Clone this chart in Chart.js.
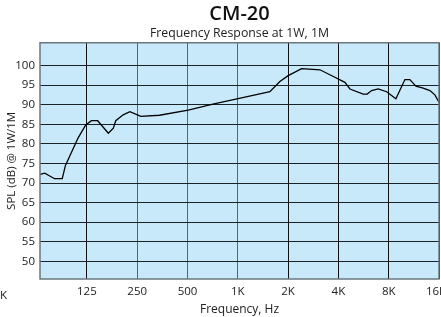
<!DOCTYPE html>
<html>
<head>
<meta charset="utf-8">
<script src="https://cdn.jsdelivr.net/npm/chart.js@4/dist/chart.umd.min.js"></script>
<style>
  html, body { margin: 0; padding: 0; background: #fff; }
  #wrap { position: relative; width: 441px; height: 317px; }
  #stray { position: absolute; left: 0px; top: 287px; font: 11.5px "Open Sans", sans-serif; color: #222; }
</style>
</head>
<body>
<div id="wrap">
  <canvas id="chart" width="441" height="317"></canvas>
  <div id="stray">K</div>
</div>
<script>
// frequency response (Hz / dB)
const freqs = [65.5, 70, 80, 89, 93, 111, 123, 133, 145, 168, 180, 186, 206, 226, 263, 340, 505, 720, 1020,
               1556, 1786, 2003, 2409, 3100, 3810, 4375, 4690, 5630, 5950, 6320, 6920, 7770, 8835,
               10000, 10710, 11640, 12870, 14110, 15120, 16000];
const spl = [72.2, 72.5, 71.1, 71.1, 74.5, 81.6, 84.8, 85.9, 85.9, 82.7, 84.0, 85.9, 87.4, 88.2, 87.0, 87.3, 88.6, 90.2, 91.6,
             93.3, 95.9, 97.4, 99.2, 98.9, 97.0, 95.7, 94.0, 92.7, 92.7, 93.6, 94.0, 93.3, 91.5,
             96.4, 96.4, 94.7, 94.2, 93.6, 92.5, 90.6];

const xTicks = [125, 250, 500, 1000, 2000, 4000, 8000, 16000];
const xLabels = ['125', '250', '500', '1K', '2K', '4K', '8K', '16K  '];
const yTicks = [50, 55, 60, 65, 70, 75, 80, 85, 90, 95, 100];

const points = freqs.map((f, i) => ({ x: f, y: spl[i] }));
const fontFam = '"Open Sans", sans-serif';

// light blue plot background + gray frame
const plotFrame = {
    id: 'plotFrame',
    beforeDraw(chart) {
        const a = chart.chartArea, c = chart.ctx;
        c.save();
        c.fillStyle = '#c8e9f9';
        c.fillRect(a.left, a.top, a.right - a.left, a.bottom - a.top);
        c.restore();
    },
    afterDatasetsDraw(chart) {
        const a = chart.chartArea, c = chart.ctx;
        c.save();
        c.strokeStyle = '#6b777c';
        c.lineWidth = 1.5;
        c.strokeRect(a.left, a.top, a.right - a.left, a.bottom - a.top);
        c.restore();
    }
};

new Chart(document.getElementById('chart'), {
    type: 'line',
    data: {
        datasets: [{
            data: points,
            borderColor: '#000',
            borderWidth: 1.3,
            pointRadius: 0,
            tension: 0,
            fill: false
        }]
    },
    plugins: [plotFrame],
    options: {
        responsive: false,
        animation: false,
        layout: { padding: { left: 0, right: 2, top: 0, bottom: 0 } },
        plugins: {
            legend: { display: false },
            tooltip: { enabled: false },
            title: {
                display: true,
                text: 'CM-20',
                fullSize: false,
                color: '#111',
                font: { family: fontFam, size: 20, weight: '600' },
                padding: { top: 2, bottom: 0 }
            },
            subtitle: {
                display: true,
                text: 'Frequency Response at 1W, 1M',
                fullSize: false,
                color: '#222',
                font: { family: fontFam, size: 12.3 },
                padding: { top: 0, bottom: 2 }
            }
        },
        scales: {
            x: {
                type: 'logarithmic',
                min: 65.5,
                max: 16000,
                afterBuildTicks: s => { s.ticks = xTicks.map(v => ({ value: v })); },
                afterFit: s => { s.height = 38; s.paddingLeft = 0; s.paddingRight = 0; },
                ticks: {
                    autoSkip: false,
                    maxRotation: 0,
                    padding: 6,
                    color: '#222',
                    font: { family: fontFam, size: 11.5 },
                    callback: (v, i) => xLabels[i]
                },
                grid: {
                    drawTicks: false,
                    lineWidth: 1,
                    color: ctx => (ctx.tick && [250, 500, 1000].includes(ctx.tick.value)) ? '#56666d' : '#111'
                },
                border: { display: false },
                title: {
                    display: true,
                    text: 'Frequency, Hz',
                    color: '#222',
                    font: { family: fontFam, size: 12 },
                    padding: { top: 0, bottom: 0 }
                }
            },
            y: {
                min: 45.5,
                max: 105.8,
                afterBuildTicks: s => { s.ticks = yTicks.map(v => ({ value: v })); },
                afterFit: s => { s.width = 40; },
                ticks: {
                    padding: 5,
                    color: '#222',
                    font: { family: fontFam, size: 11.5 }
                },
                grid: {
                    drawTicks: false,
                    lineWidth: 1,
                    color: '#1c2326'
                },
                border: { display: false },
                title: {
                    display: true,
                    text: 'SPL (dB) @ 1W/1M',
                    color: '#222',
                    font: { family: fontFam, size: 11.5 },
                    padding: { top: 5, bottom: 0 }
                }
            }
        }
    }
});
</script>
</body>
</html>
